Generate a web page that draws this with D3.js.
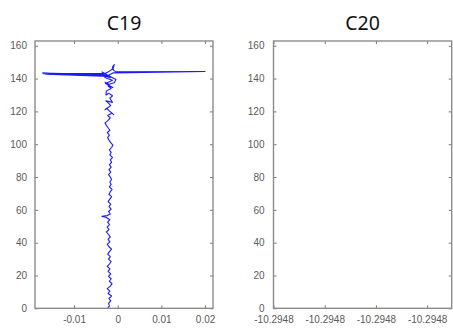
<!DOCTYPE html>
<html>
<head>
<meta charset="utf-8">
<script src="https://cdn.jsdelivr.net/npm/d3@7"></script>
<style>
  html, body { margin: 0; padding: 0; background: #fff; }
  svg { display: block; }
  .tick text { font-family: "Liberation Sans", Arial, sans-serif; font-size: 10px; fill: #5a5a5a; }
  .tick line { stroke: #777; stroke-width: 1; }
  .title { font-family: "Noto Sans", sans-serif; font-size: 19.5px; fill: #111; }
</style>
</head>
<body>
<svg id="chart" width="453" height="329"></svg>
<script>
// Depth samples (vertical axis) and the C19 displacement recorded at each sample
const depthC19 = [
  0, 1.5, 3, 4.5, 6, 7.5, 9, 10.5, 12, 13.5, 15, 16.5, 18, 19.5, 21, 22.5, 24, 25.5, 27, 28.5,
  30, 31.5, 33, 34.5, 36, 37.5, 39, 40.5, 42, 43.5, 45, 46.5, 48, 49.5, 51, 52.5, 54, 55.5, 56, 56.5,
  57.5, 59, 60.5, 62, 63.5, 65, 66.5, 68, 69.5, 71, 72.5, 74, 75.5, 77, 78.5, 80, 81.5, 83, 84.5, 86,
  87.5, 89, 90.5, 92, 93.5, 95, 96.5, 98, 99.5, 101, 102.5, 104, 105.5, 107, 108.5, 110, 111.5, 113, 114.5, 116,
  117.5, 119, 118, 120.5, 122, 121, 123.5, 125, 126.5, 125.5, 128, 129.5, 131, 130, 132.5, 134, 135.5, 134.5, 137, 138,
  139, 140, 141, 142, 143.4, 142.5, 141.5, 140.5, 141.5, 143.0, 143, 144, 145, 146.5, 148.5, 147, 145, 144.2, 144.3, 143.5,
  142, 141.5, 142.6, 143, 144, 141, 139.5, 137.5, 136.5, 138
];
const valueC19 = [
  -0.0023, -0.0019, -0.0021, -0.0016, -0.0020, -0.0014, -0.0022, -0.0018, -0.0024, -0.0017,
  -0.0013, -0.0019, -0.0015, -0.0021, -0.0016, -0.0022, -0.0018, -0.0024, -0.0019, -0.0015,
  -0.0021, -0.0017, -0.0023, -0.0019, -0.0014, -0.0020, -0.0024, -0.0018, -0.0022, -0.0017,
  -0.0021, -0.0026, -0.0020, -0.0024, -0.0019, -0.0023, -0.0018, -0.0027, -0.0036, -0.0024,
  -0.0017, -0.0021, -0.0015, -0.0020, -0.0016, -0.0022, -0.0018, -0.0014, -0.0020, -0.0017,
  -0.0013, -0.0019, -0.0015, -0.0018, -0.0014, -0.0017, -0.0021, -0.0016, -0.0020, -0.0015,
  -0.0019, -0.0014, -0.0017, -0.0012, -0.0018, -0.0015, -0.0019, -0.0014, -0.0011, -0.0016,
  -0.0020, -0.0023, -0.0019, -0.0024, -0.0018, -0.0022, -0.0026, -0.0029, -0.0022, -0.0017,
  -0.0023, -0.0013, -0.0009, -0.0020, -0.0025, -0.0029, -0.0016, -0.0021, -0.0027, -0.0012,
  -0.0018, -0.0012, -0.0020, -0.0027, -0.0026, -0.0015, -0.0022, -0.0011, -0.0028, -0.0019,
  -0.0012, -0.0024, -0.0030, -0.0020, -0.0172, -0.0035, -0.0025, -0.0017, -0.0027, -0.0170,
  -0.0030, -0.0022, -0.0016, -0.0010, -0.0008, -0.0012, -0.0009, -0.0005, 0.0200, -0.0010,
  -0.0021, -0.0034, -0.0165, -0.0028, -0.0036, -0.0015, -0.0004, -0.0008, -0.0020, -0.0030
];

// Axis ticks
const yTicks = [0, 20, 40, 60, 80, 100, 120, 140, 160];
const xTicksC19 = [-0.01, 0, 0.01, 0.02];
const xTickLabelsC19 = ["-0.01", "0", "0.01", "0.02"];
const xTicksC20 = [-10.29480, -10.29479, -10.29478, -10.29477];
const xTickLabelsC20 = ["-10.2948", "-10.2948", "-10.2948", "-10.2948"];

const titles = ["C19", "C20"];

const svg = d3.select("#chart");

const panels = [
  { title: titles[0], left: 35, right: 213, xDomain: [-0.01894, 0.02182], ticks: xTicksC19, labels: xTickLabelsC19, yPad: 8 },
  { title: titles[1], left: 273.5, right: 451.7, xDomain: [-10.29480, -10.2947652], ticks: xTicksC20, labels: xTickLabelsC20, yPad: 9 }
];
const plotTop = 41, plotBottom = 308.3;

const y = d3.scaleLinear().domain([0, 162.9]).range([plotBottom, plotTop]);

panels.forEach((p, i) => {
  const x = d3.scaleLinear().domain(p.xDomain).range([p.left, p.right]);
  const g = svg.append("g");

  // Data trace
  if (i === 0) {
    const line = d3.line().x((d, k) => x(valueC19[k])).y(d => y(d));
    g.append("path")
      .datum(depthC19)
      .attr("d", line)
      .attr("fill", "none")
      .attr("stroke", "#1a1aff")
      .attr("stroke-width", 1.1)
      .attr("stroke-linejoin", "round");
  }

  // Left axis with labels, inward ticks
  g.append("g")
    .attr("transform", `translate(${p.left},0)`)
    .call(d3.axisLeft(y).tickValues(yTicks).tickSizeInner(-3).tickSizeOuter(0).tickPadding(p.yPad))
    .call(a => a.select(".domain").remove());
  // Right mirror ticks
  g.append("g")
    .attr("transform", `translate(${p.right},0)`)
    .call(d3.axisRight(y).tickValues(yTicks).tickSizeInner(-3).tickSizeOuter(0).tickFormat(""))
    .call(a => a.select(".domain").remove());
  // Bottom axis with labels
  g.append("g")
    .attr("transform", `translate(0,${plotBottom})`)
    .call(d3.axisBottom(x).tickValues(p.ticks).tickSizeInner(-3).tickSizeOuter(0).tickPadding(8)
      .tickFormat((d, k) => p.labels[k]))
    .call(a => a.select(".domain").remove());
  // Top mirror ticks
  g.append("g")
    .attr("transform", `translate(0,${plotTop})`)
    .call(d3.axisTop(x).tickValues(p.ticks).tickSizeInner(-3).tickSizeOuter(0).tickFormat(""))
    .call(a => a.select(".domain").remove());

  // Axes box
  g.append("rect")
    .attr("x", p.left).attr("y", plotTop)
    .attr("width", p.right - p.left).attr("height", plotBottom - plotTop)
    .attr("fill", "none").attr("stroke", "#8c8c8c").attr("stroke-width", 1.4);

  // Title
  g.append("text")
    .attr("class", "title")
    .attr("x", (p.left + p.right) / 2)
    .attr("y", 29.5)
    .attr("text-anchor", "middle")
    .text(p.title);
});
</script>
</body>
</html>
